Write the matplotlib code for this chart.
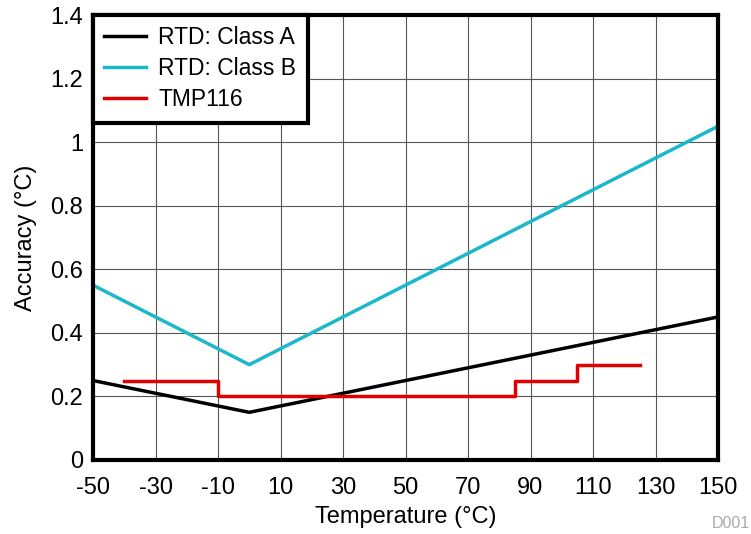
import matplotlib.pyplot as plt

plt.rcParams['font.family'] = ['Liberation Sans', 'DejaVu Sans']
plt.rcParams['axes.unicode_minus'] = False

# RTD tolerance corners (deg C -> accuracy deg C)
class_a_t = [-50, 0, 150]
class_a_acc = [0.25, 0.15, 0.45]
class_b_t = [-50, 0, 150]
class_b_acc = [0.55, 0.30, 1.05]

# TMP116 accuracy limits, stepwise
tmp_t = [-40, -10, -10, 85, 85, 105, 105, 125]
tmp_acc = [0.25, 0.25, 0.20, 0.20, 0.25, 0.25, 0.30, 0.30]

x_ticks = [-50, -30, -10, 10, 30, 50, 70, 90, 110, 130, 150]
y_ticks = [0, 0.2, 0.4, 0.6, 0.8, 1, 1.2, 1.4]
y_labels = ['0', '0.2', '0.4', '0.6', '0.8', '1', '1.2', '1.4']

fig = plt.figure(figsize=(7.51, 5.34), dpi=100)
ax = fig.add_axes([93 / 751, 1 - 460 / 534, 625 / 751, 445 / 534])

ax.plot(class_a_t, class_a_acc, color='black', lw=2.5, label='RTD: Class A')
ax.plot(class_b_t, class_b_acc, color='#1ab8c8', lw=2.5, label='RTD: Class B')
ax.plot(tmp_t, tmp_acc, color='#e00000', lw=2.5, label='TMP116')

ax.set_xlim(-50, 150)
ax.set_ylim(0, 1.4)
ax.set_xticks(x_ticks)
ax.set_yticks(y_ticks)
ax.set_yticklabels(y_labels)
ax.grid(True, color='#555555', lw=0.8)
ax.set_axisbelow(True)
ax.tick_params(length=0, labelsize=17)
ax.tick_params(axis='x', pad=12)
ax.tick_params(axis='y', pad=7)
for s in ax.spines.values():
    s.set_linewidth(3)

ax.set_xlabel('Temperature (°C)', fontsize=17, labelpad=5)
ax.set_ylabel('Accuracy (°C)', fontsize=17, labelpad=10)

leg = ax.legend(loc='upper left', fontsize=16.5, frameon=True, fancybox=False,
                borderaxespad=0, handlelength=1.8, handletextpad=0.55,
                labelspacing=0.35, borderpad=0.5)
leg.get_frame().set_edgecolor('black')
leg.get_frame().set_linewidth(3)
leg.get_frame().set_alpha(1)

fig.text(750 / 751, 1 - 523 / 534, 'D001', fontsize=11.5, color='#aaaaaa',
         va='center', ha='right')

plt.savefig('out.png', dpi=100)
